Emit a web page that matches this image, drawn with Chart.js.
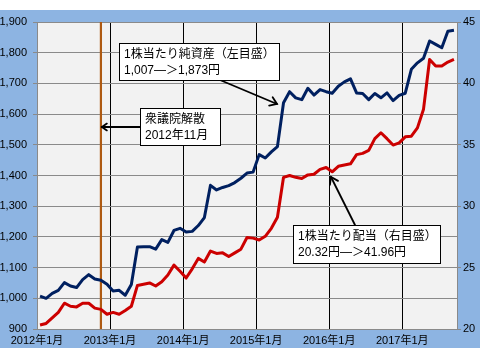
<!DOCTYPE html>
<html><head><meta charset="utf-8">
<script src="https://cdn.jsdelivr.net/npm/chart.js@4.4.1/dist/chart.umd.min.js"></script>
<style>html,body{margin:0;padding:0;background:#fff;}#wrap{width:480px;height:360px;}</style>
</head><body><div id="wrap"><canvas id="c" width="480" height="360"></canvas></div>
<script>
// Monthly categories: 2012年1月 .. 2017年9月 (69 months)
const months = [];
for (let y = 2012; y <= 2017; y++) for (let m = 1; m <= 12; m++) if (months.length < 69) months.push(y + '年' + m + '月');

// 1株当たり純資産 (left axis, 円)
const netAssets = [
  1007,1000,1016,1026,1051,1040,1035,1061,1077,1063,1059,1046,
  1024,1026,1010,1045,1167,1168,1168,1160,1191,1182,1221,1228,
  1216,1218,1237,1263,1368,1353,1361,1367,1377,1391,1408,1411,
  1468,1457,1477,1494,1637,1673,1653,1647,1684,1662,1680,1673,
  1668,1691,1705,1715,1669,1667,1647,1667,1653,1669,1644,1661,
  1668,1746,1767,1782,1838,1827,1816,1870,1873
];
// 1株当たり配当 (right axis, 円)
const dividends = [
  20.32,20.45,20.9,21.35,22.1,21.85,21.8,22.1,22.1,21.7,21.6,21.2,
  21.35,21.2,21.5,21.85,23.55,23.65,23.75,23.5,23.85,24.4,25.2,24.7,
  24.15,24.9,25.75,25.45,26.35,26.15,26.2,25.9,26.2,26.5,27.45,27.4,
  27.25,27.55,28.2,29.1,32.35,32.5,32.35,32.25,32.55,32.6,33.0,33.15,
  32.8,33.25,33.35,33.45,34.2,34.3,34.55,35.5,35.98,35.5,34.98,35.16,
  35.65,35.7,36.38,37.9,41.95,41.41,41.41,41.74,41.96
];
const xTickLabels = ['2012年1月','2013年1月','2014年1月','2015年1月','2016年1月','2017年1月'];
const dissolutionMonth = '2012年11月';

const toPoints = arr => arr.map((v, i) => ({x: i + 0.5, y: v}));
const tickFont = {family: "'Liberation Sans','Noto Sans CJK JP',sans-serif", size: 11};
const GRID = '#8a8a8a';

const bgPlugin = {
  id: 'bg',
  beforeDraw(chart) {
    const ctx = chart.ctx, a = chart.chartArea;
    ctx.save();
    ctx.fillStyle = '#ffffff'; ctx.fillRect(0, 0, 480, 360);
    ctx.fillStyle = '#8DB4E2'; ctx.fillRect(0, 10, 480, 338);
    ctx.fillStyle = '#F2F2F2'; ctx.fillRect(a.left, a.top, a.right - a.left, a.bottom - a.top);
    ctx.restore();
  }
};

function arrow(ctx, x1, y1, x2, y2, head) {
  ctx.beginPath(); ctx.moveTo(x1, y1); ctx.lineTo(x2, y2); ctx.stroke();
  const ang = Math.atan2(y2 - y1, x2 - x1);
  ctx.beginPath();
  ctx.moveTo(x2 - head * Math.cos(ang - 0.6), y2 - head * Math.sin(ang - 0.6));
  ctx.lineTo(x2, y2);
  ctx.lineTo(x2 - head * Math.cos(ang + 0.6), y2 - head * Math.sin(ang + 0.6));
  ctx.stroke();
}

const annotPlugin = {
  id: 'annot',
  beforeDatasetsDraw(chart) {
    const ctx = chart.ctx, a = chart.chartArea, xs = chart.scales.x;
    const xv = xs.getPixelForValue(months.indexOf(dissolutionMonth) + 0.5);
    ctx.save();
    ctx.strokeStyle = '#AE5A12'; ctx.lineWidth = 2.2;
    ctx.beginPath(); ctx.moveTo(xv, a.top); ctx.lineTo(xv, a.bottom); ctx.stroke();
    ctx.restore();
  },
  afterDraw(chart) {
    const ctx = chart.ctx;
    const xs = chart.scales.x;
    const xv = xs.getPixelForValue(months.indexOf(dissolutionMonth) + 0.5);
    ctx.save();
    ctx.strokeStyle = '#000'; ctx.lineWidth = 1.8; ctx.lineCap = 'round';
    arrow(ctx, 220, 80, 277, 104, 8);
    arrow(ctx, 140, 127, xv + 1, 127, 6);
    arrow(ctx, 355, 225, 331, 177, 8);
    const boxes = [
      {x: 119.5, y: 43.5, w: 160, h: 37, lines: ['1株当たり純資産（左目盛）', '1,007―＞1,873円']},
      {x: 140.5, y: 108.5, w: 80, h: 37, lines: ['衆議院解散', '2012年11月']},
      {x: 293.5, y: 225.5, w: 147, h: 38, lines: ['1株当たり配当（右目盛）', '20.32円―＞41.96円']}
    ];
    ctx.lineCap = 'butt';
    ctx.font = "12px 'Liberation Sans','Noto Sans CJK JP',sans-serif";
    ctx.textBaseline = 'middle'; ctx.textAlign = 'left';
    boxes.forEach(b => {
      ctx.fillStyle = '#fff'; ctx.fillRect(b.x, b.y, b.w, b.h);
      ctx.strokeStyle = '#000'; ctx.lineWidth = 1; ctx.strokeRect(b.x, b.y, b.w, b.h);
      ctx.fillStyle = '#000';
      b.lines.forEach((t, i) => ctx.fillText(t, b.x + 4.5, b.y + 11 + i * 16));
    });
    ctx.restore();
  }
};

new Chart(document.getElementById('c'), {
  type: 'line',
  data: {
    datasets: [
      {label: '1株当たり純資産', data: toPoints(netAssets), yAxisID: 'y', borderColor: '#002060', borderWidth: 3, pointRadius: 0, tension: 0, borderJoinStyle: 'round'},
      {label: '1株当たり配当', data: toPoints(dividends), yAxisID: 'y1', borderColor: '#CC0000', borderWidth: 3, pointRadius: 0, tension: 0, borderJoinStyle: 'round'}
    ]
  },
  options: {
    responsive: false, animation: false, devicePixelRatio: 1,
    layout: {padding: {top: 22, left: 0, right: 0, bottom: 0}},
    plugins: {legend: {display: false}, tooltip: {enabled: false}},
    scales: {
      x: {
        type: 'linear', min: 0, max: months.length,
        afterFit(s) { s.height = 31; },
        ticks: {stepSize: 12, includeBounds: false, autoSkip: false, maxRotation: 0, padding: 5, color: '#000', font: tickFont,
          callback: v => xTickLabels[v / 12] || ''},
        grid: {color: c => (c.tick && c.tick.value === 0) ? 'rgba(0,0,0,0)' : '#000', lineWidth: 1, drawTicks: false},
        border: {display: true, color: GRID, width: 1}
      },
      y: {
        position: 'left', min: 900, max: 1900,
        afterFit(s) { s.width = 37; },
        ticks: {stepSize: 100, padding: 6, color: '#000', font: tickFont, callback: v => v.toLocaleString('en-US')},
        grid: {color: GRID, lineWidth: 1, tickLength: 4},
        border: {display: true, color: GRID, width: 1}
      },
      y1: {
        position: 'right', min: 20, max: 45,
        afterFit(s) { s.width = 23; },
        ticks: {stepSize: 5, padding: 2, color: '#000', font: tickFont},
        grid: {drawOnChartArea: false, color: GRID, tickLength: 4},
        border: {display: true, color: GRID, width: 1}
      }
    }
  },
  plugins: [bgPlugin, annotPlugin]
});
</script></body></html>
